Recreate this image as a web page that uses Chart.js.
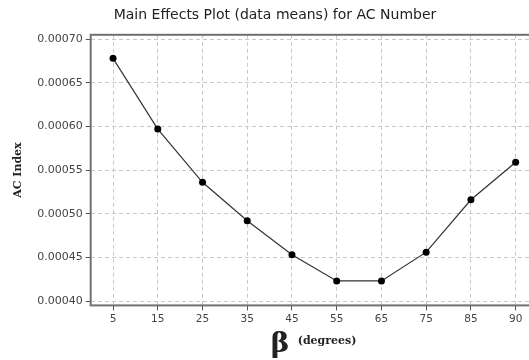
<!DOCTYPE html>
<html>
<head>
<meta charset="utf-8">
<script src="https://cdn.jsdelivr.net/npm/chart.js@4"></script>
<style>
  html, body { margin: 0; padding: 0; background: #fff; overflow: hidden; }
  #wrap { width: 529px; height: 360px; overflow: hidden; }
</style>
</head>
<body>
<div id="wrap"><canvas id="effects" width="560" height="360"></canvas></div>
<script>
// beta levels (degrees) and mean AC index
var betaLevels = ["5", "15", "25", "35", "45", "55", "65", "75", "85", "90"];
var acMeans = [0.000678, 0.000597, 0.000536, 0.000492, 0.000453, 0.000423, 0.000423, 0.000456, 0.000516, 0.000559];
var yTicks = [0.00040, 0.00045, 0.00050, 0.00055, 0.00060, 0.00065, 0.00070];

// frame round the plot area + the beta axis title
var framePlugin = {
  id: "frame",
  afterDraw: function (chart) {
    var c = chart.ctx, a = chart.chartArea;
    c.save();
    c.strokeStyle = "#707070";
    c.lineWidth = 2;
    c.strokeRect(a.left, a.top, a.right - a.left, a.bottom - a.top);

    c.fillStyle = "#222";
    c.textBaseline = "alphabetic";
    c.font = "bold 28px 'DejaVu Serif', serif";
    c.fillText("\u03B2", a.left + 180, a.bottom + 47);
    c.font = "bold 11px 'DejaVu Serif', serif";
    c.fillText("(degrees)", a.left + 207, a.bottom + 39);
    c.restore();
  }
};

var data = {
  labels: betaLevels,
  datasets: [{
    label: "AC Index",
    data: acMeans,
    borderColor: "#333",
    borderWidth: 1.2,
    backgroundColor: "#000",
    pointRadius: 3.5,
    pointBorderWidth: 0,
    tension: 0
  }]
};

var config = {
  type: "line",
  data: data,
  options: {
    responsive: false,
    animation: false,
    layout: { padding: { left: 12, right: 22, top: 0, bottom: 31 } },
    plugins: {
      legend: { display: false },
      tooltip: { enabled: false },
      title: {
        display: true,
        text: "Main Effects Plot (data means) for AC Number",
        color: "#222",
        font: { family: "'DejaVu Sans', sans-serif", size: 14, weight: "normal" },
        padding: { top: 7, bottom: 11 }
      }
    },
    scales: {
      x: {
        offset: true,
        grid: {
          offset: false,
          color: "#c8c8c8",
          tickColor: "#555",
          tickBorderDash: [],
          tickLength: 5
        },
        border: { display: false, dash: [4, 3] },
        ticks: {
          color: "#444",
          padding: 3,
          font: { family: "'DejaVu Sans', sans-serif", size: 10.5 }
        }
      },
      y: {
        min: 0.000395,
        max: 0.000705,
        afterBuildTicks: function (axis) {
          axis.ticks = yTicks.map(function (v) { return { value: v }; });
        },
        grid: {
          color: "#c8c8c8",
          tickColor: "#555",
          tickBorderDash: [],
          tickLength: 5
        },
        border: { display: false, dash: [4, 3] },
        ticks: {
          color: "#444",
          padding: 3,
          font: { family: "'DejaVu Sans', sans-serif", size: 11 },
          callback: function (v) { return Number(v).toFixed(5); }
        },
        title: {
          display: true,
          text: "AC Index",
          color: "#222",
          font: { family: "'DejaVu Serif', serif", size: 11, weight: "bold" },
          padding: { top: 0, bottom: 9 }
        }
      }
    }
  },
  plugins: [framePlugin]
};

var effectsChart = new Chart(document.getElementById("effects"), config);
</script>
</body>
</html>
